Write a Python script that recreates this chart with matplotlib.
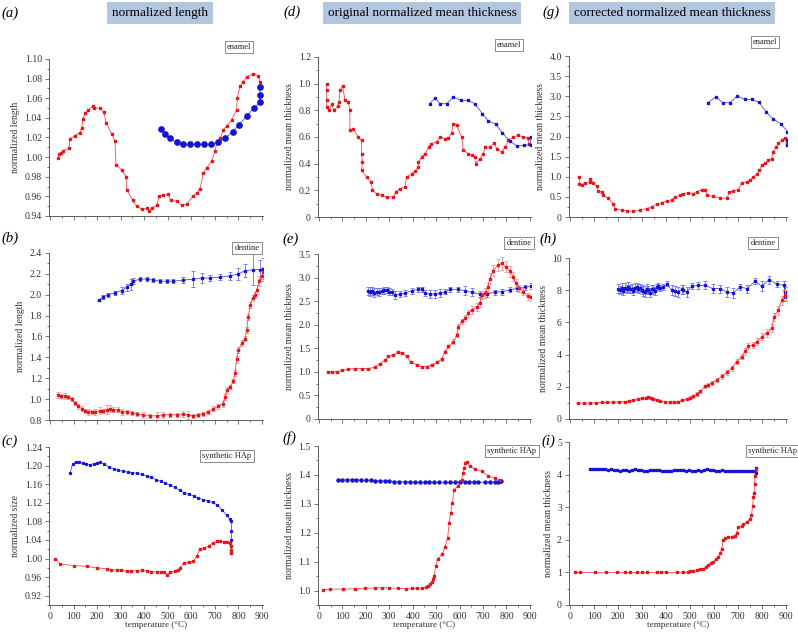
import matplotlib
matplotlib.use('Agg')
import matplotlib.pyplot as plt
from matplotlib.ticker import MultipleLocator, FuncFormatter

plt.rcParams['font.family'] = ['Liberation Serif', 'DejaVu Serif']

# ---- data (temperature in deg C) ----
# (a) normalized length, enamel
a_red_t = [35, 37, 45, 55, 81, 84, 106, 127, 135, 139, 150, 163, 181, 186, 212, 229, 238, 262, 276, 280,
           304, 323, 325, 351, 368, 389, 410, 420, 432, 453, 464, 481, 502, 512, 538, 559, 580, 606, 623, 637,
           651, 665, 686, 700, 708, 722, 736, 750, 771, 792, 795, 807, 821, 835, 863, 884, 891, 894]
a_red_v = [0.999, 1.003, 1.004, 1.006, 1.009, 1.018, 1.022, 1.025, 1.030, 1.039, 1.045, 1.048, 1.052, 1.050,
           1.050, 1.046, 1.035, 1.024, 1.016, 0.992, 0.987, 0.980, 0.967, 0.956, 0.950, 0.947, 0.948, 0.945,
           0.948, 0.951, 0.960, 0.961, 0.962, 0.956, 0.955, 0.951, 0.952, 0.960, 0.963, 0.968, 0.984, 0.989,
           0.996, 1.006, 1.014, 1.019, 1.028, 1.032, 1.038, 1.048, 1.060, 1.072, 1.077, 1.082, 1.085, 1.083,
           1.077, 1.072]
a_blue_t = [470, 488, 509, 538, 566, 594, 625, 654, 683, 715, 743, 775, 804, 835, 866, 891, 891, 891]
a_blue_v = [1.029, 1.024, 1.019, 1.015, 1.013, 1.013, 1.013, 1.013, 1.013, 1.015, 1.019, 1.026, 1.033,
            1.042, 1.050, 1.056, 1.063, 1.071]

# (b) normalized length, dentine
b_red_t = [35, 48, 62, 78, 92, 106, 120, 134, 148, 163, 177, 191, 212, 226, 241, 255, 269, 290, 304, 325,
           347, 368, 396, 425, 453, 481, 509, 538, 566, 587, 608, 630, 651, 672, 693, 715, 733, 743, 750, 764,
           778, 785, 792, 800, 814, 828, 835, 842, 849, 860, 870, 877, 889, 898, 905]
b_red_v = [1.04, 1.03, 1.03, 1.02, 1.00, 0.96, 0.93, 0.91, 0.89, 0.88, 0.88, 0.88, 0.89, 0.89, 0.90, 0.91,
           0.90, 0.90, 0.88, 0.88, 0.87, 0.86, 0.85, 0.84, 0.84, 0.85, 0.85, 0.85, 0.86, 0.85, 0.84, 0.85,
           0.86, 0.88, 0.91, 0.93, 0.95, 1.02, 1.09, 1.12, 1.17, 1.25, 1.38, 1.47, 1.54, 1.58, 1.66, 1.79,
           1.90, 1.97, 2.00, 2.05, 2.13, 2.18, 2.22]
b_red_e = [0.03, 0.02, 0.03, 0.02, 0.02, 0.02, 0.02, 0.02, 0.02, 0.03, 0.02, 0.03, 0.03, 0.02, 0.04, 0.03,
           0.02, 0.02, 0.03, 0.02, 0.02, 0.02, 0.03, 0.02, 0.04, 0.03, 0.02, 0.02, 0.03, 0.04, 0.02, 0.02,
           0.02, 0.02, 0.02, 0.02, 0.03, 0.03, 0.03, 0.02, 0.02, 0.03, 0.03, 0.03, 0.03, 0.02, 0.03, 0.03,
           0.03, 0.03, 0.03, 0.04, 0.05, 0.05, 0.05]
b_blue_t = [209, 226, 248, 276, 304, 325, 344, 354, 382, 410, 439, 467, 495, 524, 566, 608, 644, 679, 722,
            764, 800, 828, 863, 891, 905]
b_blue_v = [1.95, 1.98, 2.00, 2.02, 2.04, 2.07, 2.10, 2.13, 2.15, 2.15, 2.14, 2.13, 2.13, 2.13, 2.14, 2.15,
            2.16, 2.16, 2.17, 2.18, 2.20, 2.23, 2.24, 2.24, 2.25]
b_blue_e = [0.01, 0.02, 0.02, 0.02, 0.03, 0.03, 0.05, 0.03, 0.02, 0.02, 0.02, 0.02, 0.02, 0.02, 0.03, 0.08,
            0.05, 0.03, 0.03, 0.04, 0.06, 0.06, 0.15, 0.09, 0.10]

# (c) normalized size, synthetic HAp
c_red_t = [21, 43, 102, 156, 198, 241, 260, 283, 300, 326, 345, 368, 390, 411, 430, 454, 470, 482, 496, 510,
           531, 545, 553, 567, 588, 609, 624, 635, 655, 673, 694, 710, 723, 740, 751, 765, 768, 770, 770]
c_red_v = [1.000, 0.988, 0.985, 0.983, 0.980, 0.978, 0.976, 0.975, 0.975, 0.973, 0.973, 0.974, 0.975, 0.973,
           0.972, 0.971, 0.972, 0.970, 0.965, 0.971, 0.973, 0.976, 0.980, 0.990, 0.992, 0.995, 1.005, 1.020,
           1.022, 1.027, 1.034, 1.037, 1.037, 1.036, 1.035, 1.033, 1.027, 1.018, 1.012]
c_blue_t = [85, 96, 111, 125, 140, 155, 170, 185, 200, 212, 230, 250, 270, 290, 310, 330, 350, 370, 390, 410,
            430, 450, 470, 490, 510, 530, 550, 570, 590, 610, 630, 650, 670, 690, 710, 730, 750, 765, 770, 770,
            770, 770]
c_blue_v = [1.183, 1.204, 1.208, 1.207, 1.205, 1.203, 1.202, 1.204, 1.206, 1.208, 1.203, 1.197, 1.193, 1.190,
            1.188, 1.186, 1.185, 1.183, 1.181, 1.178, 1.175, 1.170, 1.166, 1.162, 1.158, 1.153, 1.147, 1.141,
            1.138, 1.135, 1.130, 1.127, 1.124, 1.121, 1.115, 1.105, 1.093, 1.084, 1.080, 1.060, 1.040, 1.012]

# (d) original normalized mean thickness, enamel
d_red_t = [33, 33, 33, 33, 43, 54, 64, 80, 85, 90, 101, 111, 125, 132, 132, 146, 168, 182, 182, 185,
           182, 203, 222, 228, 246, 267, 289, 317, 327, 346, 367, 374, 395, 410, 424, 424, 438, 452, 469, 478,
           502, 516, 538, 552, 566, 573, 587, 609, 616, 637, 651, 665, 668, 687, 701, 708, 729, 748, 758, 779,
           794, 808, 829, 850, 872, 893, 895]
d_red_v = [1.000, 0.95, 0.875, 0.825, 0.805, 0.845, 0.80, 0.83, 0.863, 0.95, 0.98, 0.875, 0.863, 0.80, 0.65,
           0.663, 0.60, 0.575, 0.475, 0.413, 0.35, 0.30, 0.263, 0.20, 0.175, 0.163, 0.15, 0.15, 0.188, 0.213,
           0.225, 0.30, 0.325, 0.343, 0.375, 0.41, 0.45, 0.475, 0.525, 0.55, 0.563, 0.60, 0.588, 0.593, 0.63,
           0.70, 0.688, 0.60, 0.50, 0.475, 0.463, 0.45, 0.40, 0.438, 0.475, 0.525, 0.525, 0.555, 0.513, 0.488,
           0.525, 0.575, 0.60, 0.613, 0.60, 0.595, 0.55]
d_blue_t = [473, 495, 516, 545, 573, 604, 634, 665, 697, 722, 754, 782, 815, 846, 876, 903, 903]
d_blue_v = [0.85, 0.893, 0.85, 0.85, 0.90, 0.875, 0.875, 0.85, 0.775, 0.72, 0.695, 0.633, 0.567, 0.533,
            0.538, 0.543, 0.60]

# (e) original normalized mean thickness, dentine
e_red_t = [37, 56, 75, 97, 125, 154, 182, 210, 239, 260, 282, 296, 317, 338, 353, 374, 392, 417, 438, 459,
           481, 502, 523, 538, 552, 573, 588, 594, 609, 623, 637, 651, 673, 687, 694, 708, 719, 729, 744, 765,
           782, 796, 815, 829, 839, 853, 872, 893, 905]
e_red_v = [1.00, 1.00, 1.00, 1.03, 1.06, 1.07, 1.07, 1.07, 1.10, 1.17, 1.26, 1.33, 1.36, 1.42, 1.40, 1.33,
           1.20, 1.15, 1.11, 1.11, 1.15, 1.20, 1.27, 1.43, 1.54, 1.64, 1.78, 1.96, 2.07, 2.14, 2.24, 2.31,
           2.38, 2.47, 2.63, 2.67, 2.79, 2.98, 3.15, 3.27, 3.30, 3.23, 3.13, 3.02, 2.88, 2.77, 2.70, 2.60, 2.58]
e_red_e = [0.01, 0.01, 0.01, 0.01, 0.01, 0.01, 0.01, 0.01, 0.01, 0.02, 0.02, 0.02, 0.02, 0.03, 0.02, 0.02,
           0.02, 0.02, 0.02, 0.02, 0.02, 0.02, 0.03, 0.04, 0.04, 0.05, 0.05, 0.06, 0.06, 0.07, 0.07, 0.08,
           0.08, 0.09, 0.09, 0.10, 0.10, 0.11, 0.12, 0.12, 0.13, 0.12, 0.11, 0.10, 0.09, 0.08, 0.08, 0.07, 0.07]
e_blue_t = [210, 218, 225, 235, 246, 256, 267, 278, 289, 300, 310, 324, 346, 367, 395, 424, 438, 452, 473,
            495, 516, 538, 559, 594, 623, 651, 687, 715, 751, 779, 815, 843, 879, 905]
e_blue_v = [2.72, 2.70, 2.72, 2.68, 2.70, 2.69, 2.72, 2.73, 2.74, 2.70, 2.70, 2.63, 2.65, 2.67, 2.72, 2.75,
            2.75, 2.67, 2.65, 2.65, 2.67, 2.70, 2.75, 2.75, 2.72, 2.69, 2.65, 2.65, 2.69, 2.70, 2.74, 2.77,
            2.79, 2.82]
e_blue_e = [0.08, 0.10, 0.08, 0.10, 0.08, 0.08, 0.06, 0.07, 0.06, 0.08, 0.06, 0.08, 0.07, 0.06, 0.06, 0.05,
            0.05, 0.07, 0.08, 0.08, 0.08, 0.05, 0.06, 0.06, 0.10, 0.08, 0.07, 0.06, 0.05, 0.06, 0.05, 0.05,
            0.05, 0.06]

# (f) original normalized mean thickness, synthetic HAp
f_red_t = [18, 47, 104, 155, 196, 240, 267, 300, 338, 370, 395, 420, 438, 455, 466, 475, 481, 487, 492, 498,
           506, 526, 537, 549, 556, 562, 569, 576, 594, 609, 615, 620, 625, 630, 644, 665, 694, 722, 751, 772]
f_red_v = [1.003, 1.005, 1.005, 1.006, 1.008, 1.009, 1.010, 1.009, 1.008, 1.007, 1.008, 1.008, 1.009, 1.012,
           1.017, 1.022, 1.029, 1.040, 1.050, 1.086, 1.109, 1.126, 1.149, 1.183, 1.235, 1.269, 1.303, 1.349,
           1.363, 1.383, 1.405, 1.423, 1.440, 1.446, 1.431, 1.420, 1.412, 1.397, 1.389, 1.383]
f_blue_t = [82, 100, 120, 139, 160, 180, 200, 220, 240, 260, 282, 300, 320, 340, 367, 390, 410, 430, 452, 470,
            490, 510, 537, 560, 580, 600, 623, 640, 660, 680, 708, 730, 750, 765, 772, 775]
f_blue_v = [1.383, 1.383, 1.383, 1.384, 1.383, 1.382, 1.381, 1.381, 1.380, 1.379, 1.379, 1.378, 1.377, 1.377,
            1.376, 1.375, 1.375, 1.374, 1.374, 1.374, 1.374, 1.374, 1.374, 1.374, 1.374, 1.375, 1.375, 1.375,
            1.375, 1.375, 1.375, 1.375, 1.375, 1.375, 1.378, 1.380]

# (g) corrected normalized mean thickness, enamel
g_red_t = [39, 39, 49, 63, 83, 83, 97, 111, 118, 132, 139, 160, 181, 188, 215, 236, 264, 292, 319, 340,
           361, 382, 403, 424, 438, 458, 472, 493, 514, 528, 549, 563, 572, 597, 625, 653, 664, 681, 701, 715,
           736, 750, 764, 778, 789, 799, 813, 826, 840, 847, 858, 868, 882, 896, 903, 905]
g_red_v = [1.0, 0.83, 0.79, 0.85, 0.87, 0.95, 0.85, 0.76, 0.65, 0.62, 0.54, 0.46, 0.33, 0.21, 0.17, 0.15,
           0.14, 0.17, 0.21, 0.25, 0.32, 0.36, 0.39, 0.43, 0.50, 0.54, 0.58, 0.60, 0.58, 0.62, 0.68, 0.66,
           0.54, 0.51, 0.48, 0.46, 0.61, 0.65, 0.68, 0.85, 0.87, 0.91, 1.0, 1.06, 1.16, 1.29, 1.33, 1.41,
           1.45, 1.62, 1.73, 1.83, 1.91, 1.97, 1.87, 1.78]
g_blue_t = [576, 607, 636, 667, 697, 728, 757, 788, 817, 847, 878, 906, 906, 906]
g_blue_v = [2.84, 2.99, 2.84, 2.84, 3.01, 2.92, 2.92, 2.85, 2.61, 2.43, 2.32, 2.12, 1.91, 1.78]

# (h) corrected normalized mean thickness, dentine
h_red_t = [35, 60, 83, 108, 132, 156, 181, 205, 229, 247, 264, 282, 299, 315, 326, 337, 347, 361, 375, 396,
           417, 434, 451, 468, 486, 500, 514, 528, 542, 563, 576, 590, 611, 632, 653, 674, 694, 715, 729, 743,
           764, 778, 799, 819, 840, 850, 868, 882, 896]
h_red_v = [1.0, 0.98, 0.99, 1.01, 1.03, 1.05, 1.05, 1.06, 1.08, 1.13, 1.20, 1.24, 1.28, 1.33, 1.36, 1.33,
           1.26, 1.18, 1.10, 1.06, 1.03, 1.04, 1.07, 1.15, 1.24, 1.32, 1.40, 1.55, 1.71, 2.02, 2.10, 2.23,
           2.43, 2.64, 2.89, 3.15, 3.57, 3.88, 4.20, 4.54, 4.60, 4.80, 5.11, 5.32, 5.63, 6.35, 6.76, 7.38, 7.69]
h_red_e = [0.03, 0.03, 0.03, 0.03, 0.03, 0.03, 0.03, 0.03, 0.04, 0.04, 0.04, 0.05, 0.05, 0.06, 0.06, 0.06,
           0.05, 0.05, 0.04, 0.04, 0.04, 0.04, 0.05, 0.06, 0.07, 0.08, 0.08, 0.10, 0.10, 0.12, 0.12, 0.12,
           0.14, 0.14, 0.15, 0.15, 0.18, 0.18, 0.20, 0.20, 0.20, 0.22, 0.22, 0.25, 0.25, 0.25, 0.28, 0.28, 0.30]
h_blue_t = [201, 208, 215, 222, 229, 236, 243, 250, 257, 264, 271, 278, 285, 292, 299, 306, 312, 319, 326, 333,
            340, 347, 354, 361, 368, 375, 389, 403, 424, 438, 451, 465, 472, 486, 507, 535, 563, 594, 625, 653,
            681, 708, 739, 771, 799, 831, 861, 892, 895, 895]
h_blue_v = [8.10, 8.00, 8.15, 7.95, 8.16, 8.05, 8.20, 8.10, 8.10, 7.95, 8.16, 8.20, 8.10, 8.15, 8.04, 7.95,
            7.90, 8.10, 8.00, 7.85, 8.05, 8.10, 7.95, 8.20, 8.25, 8.15, 8.20, 8.40, 8.00, 7.95, 7.90, 8.05,
            8.04, 7.90, 8.25, 8.30, 8.30, 8.10, 8.10, 7.90, 7.84, 8.20, 8.10, 8.56, 8.25, 8.66, 8.37, 8.30,
            7.90, 7.60]
h_blue_e = [0.30, 0.25, 0.30, 0.25, 0.30, 0.25, 0.30, 0.25, 0.30, 0.25, 0.30, 0.25, 0.30, 0.25, 0.30, 0.30,
            0.35, 0.30, 0.25, 0.30, 0.30, 0.25, 0.25, 0.20, 0.20, 0.20, 0.20, 0.15, 0.30, 0.30, 0.30, 0.30,
            0.30, 0.30, 0.20, 0.20, 0.25, 0.30, 0.25, 0.30, 0.30, 0.20, 0.25, 0.20, 0.30, 0.25, 0.20, 0.30,
            0.30, 0.30]

# (i) corrected normalized mean thickness, synthetic HAp
i_red_t = [21, 42, 104, 150, 194, 230, 250, 278, 300, 320, 361, 380, 400, 444, 470, 490, 500, 514, 528, 542,
           556, 566, 576, 587, 597, 608, 618, 625, 632, 639, 646, 660, 674, 688, 694, 701, 715, 722, 736, 750,
           756, 761, 764, 767, 769, 771, 773]
i_red_v = [1.0, 1.0, 1.0, 1.0, 1.0, 1.0, 1.0, 1.0, 1.0, 1.0, 1.0, 1.0, 1.0, 1.0, 1.0, 1.01, 1.03, 1.05, 1.07,
           1.09, 1.11, 1.17, 1.22, 1.28, 1.32, 1.40, 1.47, 1.58, 1.72, 1.98, 2.05, 2.08, 2.10, 2.13, 2.21,
           2.38, 2.42, 2.48, 2.54, 2.65, 2.76, 3.04, 3.30, 3.45, 3.70, 3.96, 4.16]
i_blue_t = [83, 95, 108, 120, 133, 145, 158, 170, 183, 195, 208, 220, 233, 245, 258, 270, 283, 295, 308, 320,
            333, 345, 358, 370, 383, 395, 408, 420, 433, 445, 458, 470, 483, 495, 508, 520, 533, 545, 558, 570,
            583, 595, 608, 620, 633, 645, 658, 670, 683, 695, 708, 720, 733, 745, 758, 770, 773, 773]
i_blue_v = [4.16, 4.16, 4.17, 4.16, 4.16, 4.17, 4.15, 4.16, 4.13, 4.15, 4.12, 4.14, 4.15, 4.12, 4.13, 4.16,
            4.15, 4.15, 4.10, 4.12, 4.13, 4.14, 4.13, 4.15, 4.12, 4.10, 4.12, 4.12, 4.14, 4.15, 4.13, 4.14,
            4.12, 4.13, 4.12, 4.12, 4.13, 4.12, 4.14, 4.16, 4.13, 4.13, 4.12, 4.12, 4.13, 4.12, 4.12, 4.11,
            4.12, 4.11, 4.12, 4.10, 4.12, 4.11, 4.10, 4.12, 4.05, 4.20]

col_titles = ['normalized length', 'original normalized mean thickness', 'corrected normalized mean thickness']
sample_names = ['enamel', 'dentine', 'synthetic HAp']

RED = '#e8141c'
BLUE = '#1414d2'
RED_ERR = '#f49a9a'
BLUE_ERR = '#6f6ff0'

W, H = 798, 632
fig = plt.figure(figsize=(W / 100, H / 100), dpi=100)


def panel(left, right, top, bottom):
    return fig.add_axes([left / W, 1 - bottom / H, (right - left) / W, (bottom - top) / H])


def fmt(dec):
    def f(v, pos):
        if abs(v) < 1e-9:
            return '0'
        return ('%.' + str(dec) + 'f') % v
    return FuncFormatter(f)


def style(ax, ylim, ymaj, ymin, dec, ylabel, bottom_row):
    ax.set_xlim(-5, 905)
    ax.set_ylim(*ylim)
    ax.spines['top'].set_visible(False)
    ax.spines['right'].set_visible(False)
    for s in ['left', 'bottom']:
        ax.spines[s].set_linewidth(0.6)
        ax.spines[s].set_color('#444444')
    ax.xaxis.set_major_locator(MultipleLocator(100))
    ax.xaxis.set_minor_locator(MultipleLocator(50))
    ax.yaxis.set_major_locator(MultipleLocator(ymaj))
    ax.yaxis.set_minor_locator(MultipleLocator(ymin))
    ax.yaxis.set_major_formatter(fmt(dec))
    ax.tick_params(which='major', direction='out', length=3, width=0.5, labelsize=7,
                   pad=2, colors='#444444', labelcolor='#333333')
    ax.tick_params(which='minor', direction='out', length=1.6, width=0.5, colors='#444444')
    ax.set_ylabel(ylabel, fontsize=7, color='#333333', labelpad=3)
    if bottom_row:
        ax.set_xlabel('temperature (\u00b0C)', fontsize=6.6, color='#333333', labelpad=0)
    else:
        ax.tick_params(axis='x', labelbottom=False)


def line(ax, t, v, color, marker='s', ms=1.6):
    ax.plot(t, v, '-', color=color, lw=0.6, alpha=0.75)
    ax.plot(t, v, marker, color=color, ms=ms, mec=color, ls='none')


def errline(ax, t, v, e, color, ecolor):
    ax.errorbar(t, v, yerr=e, fmt='none', ecolor=ecolor, elinewidth=0.6, capsize=1.6, capthick=0.6)
    line(ax, t, v, color)


def tag(x, y, s):
    fig.text(x / W, 1 - y / H, s, fontsize=6, ha='center', va='center', color='#222222',
             bbox=dict(boxstyle='square,pad=0.25', fc='white', ec='#777777', lw=0.6))


def label(x, y, s):
    fig.text(x / W, 1 - y / H, s, fontsize=10.5, ha='center', va='center', style='italic')


# column headers
for x, s in zip([160, 422, 672], col_titles):
    fig.text(x / W, 1 - 13 / H, s, fontsize=9.5, ha='center', va='center',
             bbox=dict(boxstyle='square,pad=0.35', fc='#b3c6df', ec='none'))

# (a)
ax = panel(48.8, 263.2, 59, 216)
style(ax, (0.94, 1.10), 0.02, 0.01, 2, 'normalized length', False)
line(ax, a_red_t, a_red_v, RED)
line(ax, a_blue_t, a_blue_v, BLUE, marker='o', ms=3.8)
# (b)
ax = panel(48.8, 263.2, 253, 420)
style(ax, (0.8, 2.4), 0.2, 0.1, 1, 'normalized length', False)
errline(ax, b_blue_t, b_blue_v, b_blue_e, BLUE, BLUE_ERR)
errline(ax, b_red_t, b_red_v, b_red_e, RED, RED_ERR)
# (c)
ax = panel(48.8, 263.2, 447, 605)
style(ax, (0.90, 1.24), 0.04, 0.02, 2, 'normalized size', True)
line(ax, c_blue_t, c_blue_v, BLUE, ms=1.3)
line(ax, c_red_t, c_red_v, RED)

# (d)
ax = panel(317.8, 531.1, 57, 217)
style(ax, (0, 1.2), 0.2, 0.1, 1, 'normalized mean thickness', False)
line(ax, d_red_t, d_red_v, RED)
line(ax, d_blue_t, d_blue_v, BLUE)
# (e)
ax = panel(317.8, 531.1, 254, 419)
style(ax, (0, 3.5), 0.5, 0.25, 1, 'normalized mean thickness', False)
errline(ax, e_blue_t, e_blue_v, e_blue_e, BLUE, BLUE_ERR)
errline(ax, e_red_t, e_red_v, e_red_e, RED, RED_ERR)
# (f)
ax = panel(317.8, 531.1, 446, 605)
style(ax, (0.95, 1.5), 0.1, 0.05, 1, 'normalized mean thickness', True)
line(ax, f_blue_t, f_blue_v, BLUE, marker='o', ms=2.2)
line(ax, f_red_t, f_red_v, RED)

# (g)
ax = panel(568.8, 787.2, 56, 217)
style(ax, (0, 4.0), 0.5, 0.25, 1, 'normalized mean thickness', False)
line(ax, g_red_t, g_red_v, RED)
line(ax, g_blue_t, g_blue_v, BLUE)
# (h)
ax = panel(568.8, 787.2, 258, 419)
style(ax, (0, 10), 2, 1, 0, 'normalized mean thickness', False)
errline(ax, h_blue_t, h_blue_v, h_blue_e, BLUE, BLUE_ERR)
errline(ax, h_red_t, h_red_v, h_red_e, RED, RED_ERR)
# (i)
ax = panel(568.8, 787.2, 442, 605)
style(ax, (0, 5), 1, 0.5, 0, 'normalized mean thickness', True)
line(ax, i_blue_t, i_blue_v, BLUE)
line(ax, i_red_t, i_red_v, RED)

# panel letters
for x, y, s in [(10, 13, '(a)'), (10, 238, '(b)'), (10, 441, '(c)'),
                (292, 12, '(d)'), (291, 239, '(e)'), (289, 438, '(f)'),
                (551, 12, '(g)'), (548, 239, '(h)'), (548, 441, '(i)')]:
    label(x, y, s)

# sample tags
for x, y, s in [(239, 47, sample_names[0]), (247, 248, sample_names[1]), (227, 456, sample_names[2]),
                (509, 45, sample_names[0]), (519, 243, sample_names[1]), (512, 451, sample_names[2]),
                (765, 42, sample_names[0]), (763, 243, sample_names[1]), (773, 451, sample_names[2])]:
    tag(x, y, s)

fig.savefig('out.png', dpi=100)
